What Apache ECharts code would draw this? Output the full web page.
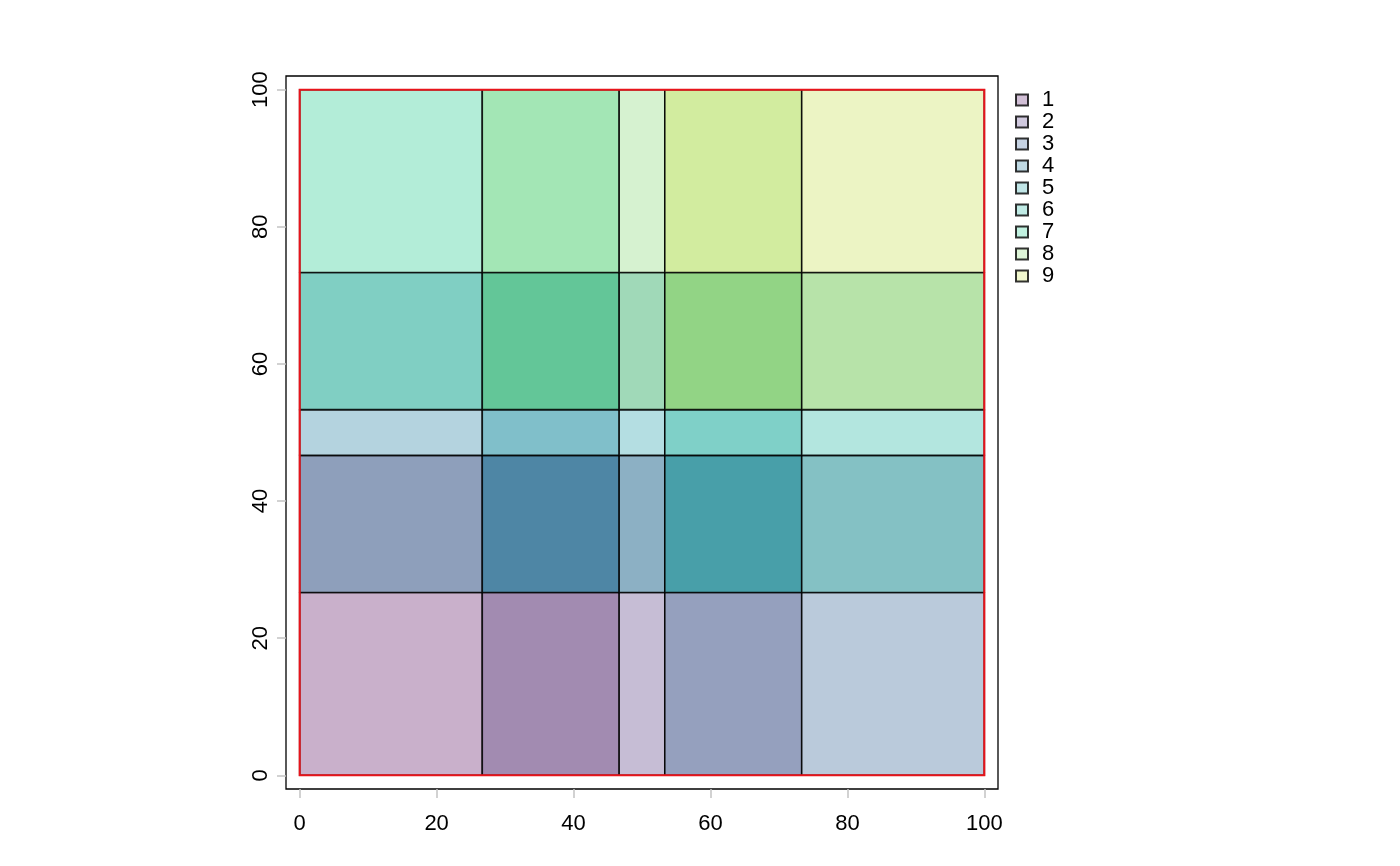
<!DOCTYPE html>
<html>
<head>
<meta charset="utf-8">
<script src="https://cdn.jsdelivr.net/npm/echarts@6/dist/echarts.min.js"></script>
<style>
html,body{margin:0;padding:0;background:#fff;}
#chart{width:1400px;height:866px;}
</style>
</head>
<body>
<div id="chart"></div>
<script>
// class break positions along each axis
var xBreaks = [0, 26.67, 46.67, 53.33, 73.33, 100];
var yBreaks = [0, 26.67, 46.67, 53.33, 73.33, 100];
// cell fills, rows from bottom (y) to top, columns left to right (x)
var cellFill = [
  ['#C9B0CB', '#A28BB1', '#C6BDD5', '#95A0BE', '#BACADB'],
  ['#8E9FBB', '#4E86A5', '#8CB0C4', '#489FA9', '#84C1C4'],
  ['#B4D3DF', '#80BFCA', '#B4DEE2', '#7FD0C8', '#B3E6DF'],
  ['#80CFC3', '#63C698', '#A0D9B8', '#92D485', '#B7E3A9'],
  ['#B3EDD8', '#A3E6B5', '#D6F2D0', '#D2EC9F', '#ECF4C4']
];
// legend classes
var legendNames = ['1', '2', '3', '4', '5', '6', '7', '8', '9'];
var legendFill = ['#C6AFCC', '#C4BCD6', '#B8C8DC', '#AFD0DC', '#B0DEE0', '#B0E6DE', '#B2EED8', '#D6F2CE', '#EEF5C0'];
// axis ticks
var xTicks = [0, 20, 40, 60, 80, 100];
var yTicks = [0, 20, 40, 60, 80, 100];

var cells = [];
for (var r = 0; r < yBreaks.length - 1; r++) {
  for (var c = 0; c < xBreaks.length - 1; c++) {
    cells.push([xBreaks[c], xBreaks[c + 1], yBreaks[r], yBreaks[r + 1], r, c]);
  }
}
var outline = [[xBreaks[0], xBreaks[xBreaks.length - 1], yBreaks[0], yBreaks[yBreaks.length - 1]]];

function rectItem(params, api, style) {
  var p0 = api.coord([api.value(0), api.value(2)]);
  var p1 = api.coord([api.value(1), api.value(3)]);
  return {
    type: 'rect',
    shape: { x: p0[0], y: p1[1], width: p1[0] - p0[0], height: p0[1] - p1[1] },
    style: style
  };
}

var FONT = 'Liberation Sans, Arial, Helvetica, sans-serif';

var series = [
  {
    type: 'custom',
    name: 'cells',
    data: cells,
    silent: true,
    renderItem: function (params, api) {
      var r = api.value(4), c = api.value(5);
      return rectItem(params, api, {
        fill: cellFill[r][c],
        stroke: 'rgba(0,0,0,0.85)',
        lineWidth: 1.6
      });
    },
    z: 2
  },
  {
    type: 'custom',
    name: 'outline',
    data: outline,
    silent: true,
    renderItem: function (params, api) {
      return rectItem(params, api, {
        fill: 'none',
        stroke: '#E8141B',
        lineWidth: 2
      });
    },
    z: 3
  }
];
legendNames.forEach(function (n, i) {
  series.push({
    type: 'scatter',
    name: n,
    data: [],
    itemStyle: { color: legendFill[i], borderColor: '#000', borderWidth: 1.5 }
  });
});

var chart = echarts.init(document.getElementById('chart'), null, { renderer: 'canvas' });
chart.setOption({
  animation: false,
  backgroundColor: '#fff',
  grid: {
    left: 286, right: 402, top: 76, bottom: 77,
    show: true, borderColor: '#000', borderWidth: 1.3, backgroundColor: 'transparent'
  },
  xAxis: {
    type: 'value', min: -2, max: 102,
    axisLine: { show: false, onZero: false },
    splitLine: { show: false },
    axisTick: { show: true, length: 9, lineStyle: { color: '#c4c4c4', width: 1.5 }, customValues: xTicks },
    axisLabel: { show: true, customValues: xTicks, margin: 24, fontSize: 22, color: '#000', fontFamily: FONT }
  },
  yAxis: {
    type: 'value', min: -2, max: 102,
    axisLine: { show: false, onZero: false },
    splitLine: { show: false },
    axisTick: { show: true, length: 9, lineStyle: { color: '#c4c4c4', width: 1.5 }, customValues: yTicks },
    axisLabel: { show: true, customValues: yTicks, rotate: 90, margin: 14, fontSize: 22, color: '#000', fontFamily: FONT }
  },
  legend: {
    show: true,
    orient: 'vertical',
    left: 1010, top: 84,
    itemWidth: 12, itemHeight: 11,
    itemGap: 0,
    icon: 'rect',
    selectedMode: false,
    data: legendNames,
    textStyle: { fontSize: 22, color: '#000', fontFamily: FONT, lineHeight: 20, padding: [0, 0, 0, 9] }
  },
  series: series
});
</script>
</body>
</html>
